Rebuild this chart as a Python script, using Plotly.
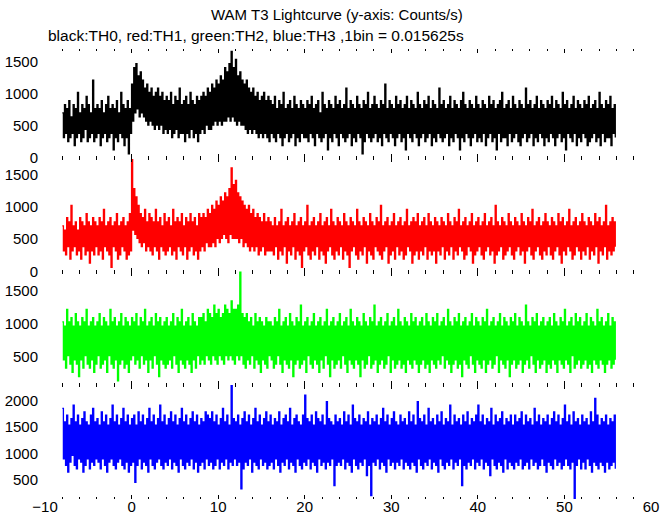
import plotly.graph_objects as go

# ---- data: counts per 1/64 s bin ----
# listed as (column maximum, column minimum) pairs, 4 pairs per second, t = -8 s .. 56 s
BIN = 0.015625          # s per bin
T_START = -8.0          # s
T_END = 56.0            # s

TH0 = [
    11,5, 13,6, 12,4, 14,5, 10,6, 13,3, 12,5, 16,6, 11,4, 13,5, 12,7, 15,4, 13,5, 11,6, 19,4, 12,5,
    13,6, 12,3, 14,5, 11,6, 13,4, 15,5, 12,6, 13,2, 12,5, 14,4, 11,6, 16,5, 13,3, 12,5, 14,1, 12,6,
    18,9, 22,11, 23,12, 20,10, 21,11, 19,10, 17,9, 18,8, 16,9, 17,8, 15,7, 16,8, 17,7, 15,8, 16,6, 14,7,
    15,6, 14,7, 16,5, 13,6, 15,7, 14,5, 17,6, 13,6, 14,4, 15,6, 13,5, 16,7, 14,5, 13,6, 15,4, 14,6,
    15,7, 16,6, 15,8, 17,7, 16,7, 18,8, 17,9, 19,8, 18,9, 20,8, 19,9, 22,9, 21,10, 23,9, 26,10, 22,9,
    24,8, 20,9, 21,8, 19,8, 18,7, 19,6, 17,7, 16,6, 17,7, 15,6, 16,5, 14,6, 15,5, 16,6, 14,5, 15,4,
    14,6, 13,5, 15,4, 12,6, 14,5, 13,3, 16,5, 12,6, 13,4, 14,5, 12,6, 15,3, 13,5, 12,4, 14,6, 13,5,
    12,5, 14,4, 13,6, 15,5, 12,3, 13,6, 14,5, 11,4, 16,5, 13,6, 12,2, 14,5, 13,4, 12,6, 15,5, 13,3,
    14,6, 12,5, 13,4, 17,5, 12,6, 14,3, 13,5, 12,4, 15,6, 13,5, 12,1, 14,4, 13,6, 16,5, 12,4, 13,5,
    15,6, 13,4, 12,5, 14,3, 13,6, 18,5, 12,4, 14,6, 13,5, 12,3, 15,5, 13,6, 14,4, 12,5, 13,2, 15,6,
    12,5, 14,4, 13,6, 12,5, 16,3, 13,5, 12,6, 14,4, 13,5, 15,6, 12,3, 14,5, 13,4, 12,6, 17,5, 13,4,
    14,5, 12,6, 13,3, 15,5, 12,4, 14,6, 13,5, 12,2, 14,5, 16,4, 13,6, 12,5, 14,3, 13,5, 12,6, 15,4,
    13,5, 12,4, 14,6, 13,3, 12,5, 15,6, 13,4, 14,5, 12,2, 13,6, 14,4, 16,5, 12,5, 13,3, 14,6, 12,4,
    15,5, 13,6, 12,4, 14,3, 13,5, 12,6, 17,4, 13,5, 14,6, 12,3, 13,5, 15,4, 12,6, 14,5, 13,3, 12,5,
    14,4, 13,6, 15,5, 12,3, 14,5, 13,6, 12,4, 16,5, 13,2, 14,6, 12,5, 13,4, 15,6, 12,3, 14,5, 13,4,
    12,6, 14,5, 13,3, 15,4, 12,5, 13,6, 14,4, 12,5, 16,3, 13,6, 12,4, 14,5, 13,5, 15,3, 12,6, 13,5,
]

TH1 = [
    11,5, 10,4, 13,6, 12,3, 16,5, 11,6, 12,4, 10,5, 13,3, 12,6, 11,4, 14,5, 12,2, 11,5, 13,4, 12,6,
    11,4, 13,5, 12,3, 15,6, 11,5, 12,4, 13,1, 11,6, 12,5, 14,3, 11,4, 12,6, 13,5, 11,3, 12,4, 14,5,
    27,10, 20,9, 18,8, 16,7, 14,6, 13,7, 15,5, 12,6, 14,5, 13,4, 12,6, 15,5, 12,3, 13,6, 11,5, 14,4,
    12,5, 13,6, 11,4, 15,5, 12,3, 13,6, 12,5, 14,4, 11,6, 13,3, 12,5, 14,6, 12,4, 13,5, 11,3, 14,5,
    13,6, 14,5, 13,7, 15,6, 14,6, 16,7, 15,6, 17,8, 16,7, 18,8, 17,9, 19,8, 18,7, 20,9, 25,8, 21,8,
    22,8, 19,7, 18,8, 17,6, 16,7, 15,6, 16,5, 14,6, 15,5, 13,6, 14,4, 13,5, 12,6, 14,4, 12,5, 13,5,
    12,5, 11,4, 13,6, 11,3, 12,5, 15,4, 11,6, 12,2, 13,5, 11,4, 12,6, 14,3, 11,5, 12,4, 13,1, 11,5,
    12,6, 16,4, 11,3, 12,5, 13,4, 11,6, 12,3, 14,5, 11,4, 12,2, 13,5, 11,6, 15,4, 12,3, 11,5, 13,4,
    12,6, 11,3, 14,5, 12,4, 11,1, 13,5, 12,6, 11,4, 15,3, 12,5, 11,4, 13,6, 12,2, 11,5, 14,4, 12,3,
    11,6, 13,5, 12,4, 16,3, 11,5, 12,6, 13,2, 11,4, 12,5, 14,3, 11,6, 12,4, 13,5, 11,3, 12,4, 15,6,
    11,5, 12,2, 13,4, 12,5, 14,3, 11,5, 12,4, 13,6, 11,3, 14,5, 12,4, 11,5, 13,2, 12,5, 11,4, 13,6,
    12,3, 11,5, 14,4, 12,6, 11,3, 13,5, 12,4, 15,6, 11,5, 12,3, 13,4, 11,6, 12,5, 14,2, 11,4, 12,5,
    13,6, 11,4, 12,3, 14,5, 11,6, 12,4, 13,5, 11,2, 16,4, 12,5, 11,6, 13,3, 12,4, 11,5, 14,6, 12,4,
    11,3, 13,5, 12,6, 11,4, 14,5, 12,2, 11,5, 13,6, 12,4, 15,3, 11,5, 12,6, 13,4, 11,3, 12,5, 14,4,
    12,6, 11,4, 13,3, 12,5, 11,6, 14,4, 12,2, 13,5, 11,4, 12,6, 15,5, 11,3, 12,4, 13,6, 11,5, 12,3,
    14,5, 12,4, 11,6, 13,3, 12,5, 11,4, 14,6, 12,2, 13,5, 11,4, 12,6, 16,3, 11,5, 12,4, 13,5, 12,6,
]

TH2 = [
    16,7, 15,5, 19,8, 16,6, 17,4, 15,7, 18,6, 16,3, 15,7, 17,5, 16,8, 19,6, 15,5, 16,7, 17,4, 15,6,
    16,8, 18,5, 15,6, 17,7, 16,4, 15,8, 19,6, 16,5, 17,7, 15,2, 16,6, 18,7, 15,5, 17,6, 16,4, 15,7,
    17,8, 16,6, 18,7, 15,5, 17,8, 16,6, 19,7, 15,4, 16,7, 17,5, 15,8, 18,6, 16,3, 17,7, 15,6, 16,5,
    17,6, 15,7, 16,5, 18,8, 15,6, 17,4, 16,7, 19,6, 15,5, 16,7, 17,6, 15,4, 18,7, 16,5, 15,8, 17,6,
    17,7, 18,6, 16,8, 19,7, 18,6, 17,8, 20,7, 18,6, 19,8, 17,7, 18,6, 20,8, 19,7, 18,8, 21,7, 19,6,
    19,8, 20,7, 28,8, 18,6, 17,5, 18,7, 16,6, 17,8, 15,5, 18,7, 16,6, 17,4, 16,7, 15,6, 17,5, 16,8,
    16,7, 15,5, 17,6, 16,8, 19,6, 15,4, 16,7, 17,6, 15,5, 18,7, 16,3, 15,6, 17,7, 16,5, 20,6, 15,7,
    16,4, 17,8, 15,6, 16,5, 18,7, 15,6, 16,4, 17,7, 15,5, 16,8, 19,6, 15,3, 16,7, 17,5, 15,6, 16,7,
    18,5, 15,8, 16,6, 17,4, 15,7, 19,6, 16,5, 15,7, 17,6, 16,3, 15,7, 18,5, 16,6, 15,8, 17,5, 16,6,
    20,7, 15,4, 16,6, 17,7, 15,5, 16,6, 18,8, 15,4, 16,7, 17,5, 15,6, 19,7, 16,5, 15,6, 17,4, 16,7,
    15,6, 18,5, 16,7, 17,6, 15,4, 16,6, 17,7, 15,5, 18,6, 16,4, 15,7, 17,6, 16,5, 18,7, 15,6, 16,8,
    17,5, 15,7, 19,6, 16,4, 15,6, 17,7, 16,5, 18,6, 15,3, 16,7, 17,6, 15,5, 16,8, 18,6, 15,4, 17,7,
    16,6, 15,5, 17,7, 16,4, 19,6, 15,7, 16,5, 17,6, 15,8, 16,4, 18,7, 15,6, 17,5, 16,7, 15,3, 17,6,
    16,7, 18,5, 15,6, 17,7, 16,4, 15,6, 20,7, 16,5, 15,8, 17,6, 16,4, 18,7, 15,5, 16,6, 17,7, 15,4,
    16,6, 17,5, 15,7, 18,6, 16,4, 15,7, 17,6, 16,5, 19,7, 15,6, 16,4, 17,8, 15,5, 18,6, 16,7, 17,5,
    15,6, 16,7, 18,5, 15,6, 17,4, 16,7, 15,6, 19,5, 16,7, 17,6, 15,4, 16,6, 18,7, 15,5, 17,6, 16,7,
]

TH3 = [
    29,14, 25,12, 27,10, 24,13, 26,15, 30,12, 25,11, 27,14, 24,13, 26,10, 28,12, 25,14, 24,11, 27,13, 29,12, 25,14,
    26,13, 24,11, 28,14, 25,12, 27,10, 24,13, 26,14, 30,12, 25,11, 27,13, 24,14, 26,12, 29,11, 25,13, 27,10, 24,12,
    26,13, 27,7, 24,12, 28,14, 25,11, 27,13, 24,12, 26,10, 29,14, 25,12, 27,11, 24,13, 26,14, 30,12, 25,11, 27,13,
    24,12, 26,14, 28,11, 25,13, 27,12, 24,10, 26,14, 29,12, 25,11, 27,13, 24,12, 26,14, 28,11, 25,13, 27,10, 24,12,
    26,13, 25,11, 28,14, 27,12, 26,13, 28,11, 25,12, 27,14, 24,11, 26,13, 29,12, 25,14, 27,11, 24,13, 36,12, 26,14,
    25,12, 27,13, 24,5, 26,11, 28,13, 25,12, 27,14, 24,10, 26,13, 29,12, 25,11, 27,14, 24,12, 26,13, 28,11, 25,12,
    27,13, 24,11, 26,14, 25,12, 28,10, 24,13, 26,12, 27,14, 25,11, 29,13, 24,12, 26,10, 27,14, 25,12, 24,11, 27,13,
    33,12, 26,14, 25,11, 27,13, 24,12, 28,10, 26,14, 25,12, 27,13, 24,11, 31,13, 26,12, 25,14, 24,6, 27,12, 25,13,
    26,12, 24,14, 28,11, 25,13, 27,12, 24,10, 30,14, 26,12, 25,11, 27,13, 24,12, 26,14, 25,9, 28,12, 24,3, 26,13,
    25,12, 27,14, 24,11, 26,13, 29,12, 25,10, 27,14, 24,12, 26,13, 28,11, 25,13, 24,12, 27,14, 25,11, 26,13, 24,12,
    28,11, 25,13, 27,12, 24,10, 31,14, 26,12, 25,11, 27,13, 24,12, 29,14, 25,11, 26,13, 24,12, 27,10, 25,14, 28,12,
    24,11, 26,13, 25,12, 30,14, 24,11, 27,13, 25,12, 26,14, 24,6, 27,12, 25,11, 28,13, 24,12, 26,14, 25,11, 27,13,
    30,12, 25,14, 27,11, 24,13, 26,12, 25,9, 29,14, 24,12, 27,11, 25,13, 26,12, 28,10, 24,14, 26,11, 25,13, 27,12,
    24,11, 27,13, 25,12, 26,14, 28,11, 24,12, 27,13, 25,11, 26,14, 24,12, 29,13, 25,11, 27,12, 24,14, 26,12, 25,10,
    27,13, 24,12, 26,11, 28,14, 25,12, 27,13, 24,11, 26,12, 30,14, 25,12, 27,11, 24,13, 28,2, 25,12, 26,14, 24,11,
    27,13, 25,11, 26,14, 24,12, 28,10, 25,13, 32,12, 27,11, 24,13, 26,12, 25,10, 27,13, 24,11, 26,12, 25,13, 27,11,
]

X_TICKS = [-10, 0, 10, 20, 30, 40, 50, 60]
TITLE = "WAM T3 Lightcurve (y-axis: Counts/s)"
SUBTITLE = "black:TH0, red:TH1, green:TH2, blue:TH3 ,1bin = 0.015625s"

# ---- styling / layout ----
W, H = 672, 515
ML, MR, MT, MB = 45, 21, 49, 16
PW, PH = W - ML - MR, H - MT - MB
FONT = "Liberation Sans, Arial, sans-serif"

def py2paper(py):
    return (H - MB - py) / PH

def px2paper(px):
    return (px - ML) / PW

edges = [49, 158, 271.5, 385, 499]
panels = [
    (TH0, "#000000", [0, 1700]),
    (TH1, "#ff0000", [0, 1755]),
    (TH2, "#00ff00", [64, 1792]),
    (TH3, "#0000ff", [128, 2304]),
]

fig = go.Figure()
layout = dict(
    width=W, height=H,
    margin=dict(l=ML, r=MR, t=MT, b=MB, autoexpand=False),
    paper_bgcolor="white", plot_bgcolor="white",
    showlegend=False,
    font=dict(family=FONT, size=15, color="black"),
)

for k, (counts, color, yr) in enumerate(panels, start=1):
    s = "" if k == 1 else str(k)
    n = len(counts)
    t = [T_START + (T_END - T_START) * i / n for i in range(n)]
    rate = [c / BIN for c in counts]
    fig.add_trace(go.Scatter(
        x=t, y=rate, mode="lines",
        line=dict(color=color, width=1.3, shape="hv"),
        xaxis="x" + s, yaxis="y" + s, hoverinfo="skip",
    ))
    top, bot = edges[k - 1], edges[k]
    layout["xaxis" + s] = dict(
        range=[-10, 60], domain=[0, 1], anchor="y" + s, automargin=False,
        showgrid=False, zeroline=False,
        showline=True, linecolor="rgba(0,0,0,0)", mirror="ticks",
        ticks="inside", ticklen=4, tickwidth=1, tickcolor="black",
        tickvals=X_TICKS, showticklabels=(k == 4),
        tickfont=dict(family=FONT, size=15, color="black"),
        ticklabelstandoff=-6,
        minor=dict(dtick=2, tick0=0, ticks="inside", ticklen=2, tickwidth=1, tickcolor="black"),
    )
    layout["yaxis" + s] = dict(
        range=yr, domain=[py2paper(bot), py2paper(top)], anchor="x" + s, automargin=False,
        showgrid=False, zeroline=False, showline=False,
        ticks="", dtick=500, tick0=0,
        tickfont=dict(family=FONT, size=15, color="black"),
        ticklabelstandoff=6,
    )

layout["annotations"] = [
    dict(text=TITLE, xref="paper", yref="paper",
         x=px2paper(337), y=py2paper(15), xanchor="center", yanchor="middle",
         showarrow=False, font=dict(family=FONT, size=15, color="black")),
    dict(text=SUBTITLE, xref="paper", yref="paper",
         x=px2paper(46), y=py2paper(35), xanchor="left", yanchor="middle",
         showarrow=False, font=dict(family=FONT, size=15.5, color="black")),
]

fig.update_layout(**layout)
# the page body would otherwise add an 8 px margin around the 672x515 figure
fig.write_html("out.html", config={"displayModeBar": False, "staticPlot": True},
               post_script="document.body.style.margin='0';")
